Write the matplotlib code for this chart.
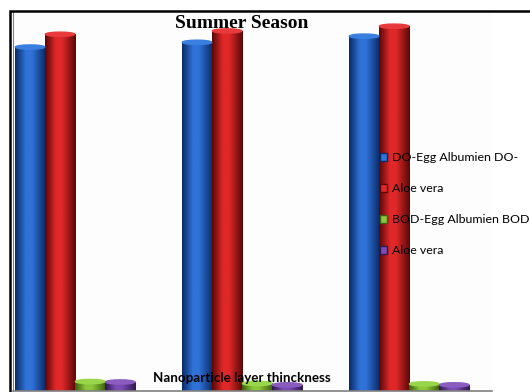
import numpy as np
import matplotlib
matplotlib.use('Agg')
import matplotlib.pyplot as plt
from matplotlib.colors import LinearSegmentedColormap
from matplotlib.patches import Rectangle, Ellipse

# data (no axis scale shown, values in arbitrary units)
groups = ['1', '2', '3']
series = ['DO-Egg Albumien DO-', 'Aloe vera', 'BOD-Egg Albumien BOD', 'Aloe vera']
do_egg = [7.26, 7.36, 7.49]
do_aloe = [7.53, 7.60, 7.70]
bod_egg = [0.20, 0.16, 0.15]
bod_aloe = [0.19, 0.13, 0.13]

values = [do_egg, do_aloe, bod_egg, bod_aloe]
# (dark edge, bright highlight, cap colour)
shades = [('#0b2a66', '#2f72d8', '#3a7fe0'),
          ('#5a0808', '#e02828', '#e83a3a'),
          ('#3c6010', '#8cc83a', '#9ad64a'),
          ('#30184e', '#7c4cb4', '#8a5cc0')]

fig = plt.figure(figsize=(5.3, 3.92), dpi=100)
W, H = 530.0, 392.0
ax = fig.add_axes([13 / W, 1 / H, (492 - 13) / W, (391 - 12) / H])
ax.set_xlim(-0.012, 2.856)
ax.set_ylim(0, 8)
ax.set_facecolor('#fdfdfd')

bw = 0.18
grad = np.linspace(0, 1, 64).reshape(1, -1)
for s, (vals, (dark, bright, cap)) in enumerate(zip(values, shades)):
    cmap = LinearSegmentedColormap.from_list(
        'c%d' % s, [(0, dark), (0.35, bright), (0.55, bright), (1, dark)])
    for g, v in enumerate(vals):
        x0 = g + s * bw
        bars = ax.bar(x0, v, width=bw, align='edge', color='none', linewidth=0)
        im = ax.imshow(grad, cmap=cmap, aspect='auto',
                       extent=(x0, x0 + bw, 0, v), zorder=2)
        im.set_clip_path(bars.patches[0])
        ax.add_patch(Ellipse((x0 + bw / 2, v), bw * 0.98, 0.09,
                             color=cap, zorder=3))

ax.set_xticks([])
ax.set_yticks([])
for side in ['top', 'right']:
    ax.spines[side].set_visible(False)
ax.spines['left'].set_color('#808080')
ax.spines['bottom'].set_color('#808080')
ax.spines['bottom'].set_linewidth(1.2)

handles = [Rectangle((0, 0), 1, 1, facecolor=sh[1], edgecolor=sh[0]) for sh in shades]
ax.legend(handles, series, loc='upper left', bbox_to_anchor=(380 / W, 1 - 152 / H),
          bbox_transform=fig.transFigure, frameon=False, handlelength=0.6,
          handleheight=0.6, handletextpad=0.35, labelspacing=1.62,
          prop={'family': 'Lato', 'size': 8.9}, borderaxespad=0, borderpad=0)

fig.text(242 / W, 1 - 23 / H, 'Summer Season', ha='center', va='center',
         fontfamily='Liberation Serif', fontweight='bold', fontsize=14)
fig.text(242 / W, 1 - 378 / H, 'Nanoparticle layer thinckness', ha='center',
         va='center', fontfamily='Lato', fontweight='bold', fontsize=9.6)

# outer chart frame
fig.add_artist(Rectangle((10 / W, -0.1), 1.2, 1 - 11 / H + 0.1,
                         transform=fig.transFigure, fill=False,
                         edgecolor='black', linewidth=1.8))

fig.savefig('out.png', dpi=100)
